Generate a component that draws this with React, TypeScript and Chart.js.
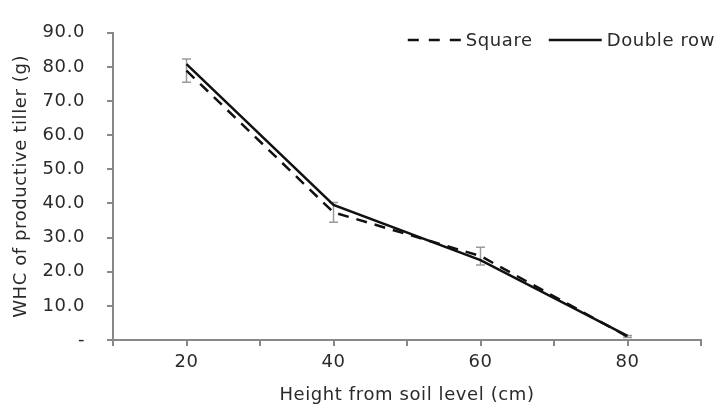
import React, { useEffect, useRef } from "react";
import { Chart, registerables } from "chart.js";

Chart.register(...registerables);

const heights = [20, 40, 60, 80];
const squareValues = [78.9, 37.4, 24.6, 1.0];
const squareErrors = [3.4, 2.9, 2.6, 0.3];
const doubleRowValues = [80.8, 39.6, 23.4, 1.2];
const xLabelsShown = [20, 40, 60, 80];
const seriesNames = ["Square", "Double row"];

const FONT = "'DejaVu Sans', sans-serif";
const TEXT = "#2a2a2a";
const SPACING = "0.6px";

const spacingPlugin = {
  id: "letterSpacing",
  beforeUpdate(chart: any) {
    chart.ctx.letterSpacing = SPACING;
  },
  beforeLayout(chart: any) {
    chart.ctx.letterSpacing = SPACING;
  },
  beforeDraw(chart: any) {
    chart.ctx.letterSpacing = SPACING;
  },
};

const errorBarPlugin = {
  id: "errorBars",
  beforeDatasetsDraw(chart: any) {
    const { ctx, scales } = chart;
    const xs = scales.x;
    const ys = scales.y;
    ctx.save();
    ctx.strokeStyle = "#9a9a9a";
    ctx.lineWidth = 1.5;
    heights.forEach((h, i) => {
      const px = xs.getPixelForValue(h);
      const top = ys.getPixelForValue(squareValues[i] + squareErrors[i]);
      const bot = ys.getPixelForValue(squareValues[i] - squareErrors[i]);
      ctx.beginPath();
      ctx.moveTo(px, top);
      ctx.lineTo(px, bot);
      ctx.moveTo(px - 4.5, top);
      ctx.lineTo(px + 4.5, top);
      ctx.moveTo(px - 4.5, bot);
      ctx.lineTo(px + 4.5, bot);
      ctx.stroke();
    });
    ctx.restore();
  },
};

const legendPlugin = {
  id: "customLegend",
  afterDraw(chart: any) {
    const { ctx } = chart;
    ctx.save();
    ctx.letterSpacing = SPACING;
    ctx.font = `18px ${FONT}`;
    ctx.textBaseline = "middle";
    ctx.fillStyle = TEXT;
    const lineW = 53;
    const gap = 5;
    const itemGap = 16;
    const widths = seriesNames.map((n) => ctx.measureText(n).width);
    const total = widths.reduce((a, w) => a + lineW + gap + w, 0) + itemGap;
    let x = chart.width - 3 - total;
    const y = 40;
    seriesNames.forEach((name, i) => {
      const ds = chart.data.datasets[i];
      ctx.strokeStyle = "#111111";
      ctx.lineWidth = ds.borderWidth;
      ctx.setLineDash(ds.borderDash ? [11, 10] : []);
      ctx.beginPath();
      ctx.moveTo(x, y);
      ctx.lineTo(x + lineW, y);
      ctx.stroke();
      ctx.setLineDash([]);
      x += lineW + gap;
      ctx.textAlign = "left";
      ctx.fillText(name, x, y + 1);
      x += widths[i] + itemGap;
    });
    ctx.restore();
  },
};

export default function App() {
  const ref = useRef<HTMLCanvasElement>(null);

  useEffect(() => {
    if (!ref.current) return;
    const chart = new Chart(ref.current, {
      type: "line",
      data: {
        datasets: [
          {
            label: seriesNames[0],
            data: heights.map((h, i) => ({ x: h, y: squareValues[i] })),
            borderColor: "#111111",
            borderWidth: 2.5,
            borderDash: [11, 8],
            pointRadius: 0,
            fill: false,
            tension: 0,
          },
          {
            label: seriesNames[1],
            data: heights.map((h, i) => ({ x: h, y: doubleRowValues[i] })),
            borderColor: "#111111",
            borderWidth: 2.5,
            pointRadius: 0,
            fill: false,
            tension: 0,
          },
        ],
      },
      options: {
        animation: false,
        responsive: false,
        maintainAspectRatio: false,
        layout: { padding: { left: 0, right: 17, top: 26, bottom: 0 } },
        plugins: {
          legend: { display: false },
          tooltip: { enabled: false },
        },
        scales: {
          x: {
            type: "linear",
            min: 10,
            max: 90,
            afterFit: (s: any) => {
              s.height = 66;
            },
            border: { display: true, color: "#888888", width: 2 },
            grid: {
              display: true,
              drawOnChartArea: false,
              drawTicks: true,
              tickLength: 6,
              color: "#888888",
              lineWidth: 2,
            },
            ticks: {
              stepSize: 10,
              autoSkip: false,
              maxRotation: 0,
              padding: 6,
              color: TEXT,
              font: { family: FONT, size: 18 },
              callback: (v: any) => (xLabelsShown.includes(Number(v)) ? String(v) : ""),
            },
            title: {
              display: true,
              text: "Height from soil level (cm)",
              color: TEXT,
              font: { family: FONT, size: 18 },
              padding: { top: 0, bottom: 0 },
            },
          },
          y: {
            min: 0,
            max: 90,
            afterFit: (s: any) => {
              s.width = 113;
            },
            border: { display: true, color: "#888888", width: 2 },
            grid: {
              display: true,
              drawOnChartArea: false,
              drawTicks: true,
              tickLength: 6,
              color: "#888888",
              lineWidth: 2,
            },
            ticks: {
              stepSize: 10,
              padding: 22,
              color: TEXT,
              font: { family: FONT, size: 18 },
              callback: (v: any) => (Number(v) === 0 ? "-" : Number(v).toFixed(1)),
            },
            title: {
              display: true,
              text: "WHC of productive tiller (g)",
              color: TEXT,
              font: { family: FONT, size: 18 },
              padding: { top: 11, bottom: 0 },
            },
          },
        },
      },
      plugins: [spacingPlugin, errorBarPlugin, legendPlugin],
    });
    return () => chart.destroy();
  }, []);

  return (
    <div style={{ position: "fixed", left: 0, top: 0, width: 718, height: 406, background: "#fff" }}>
      <canvas ref={ref} width={718} height={406} style={{ display: "block" }} />
    </div>
  );
}
